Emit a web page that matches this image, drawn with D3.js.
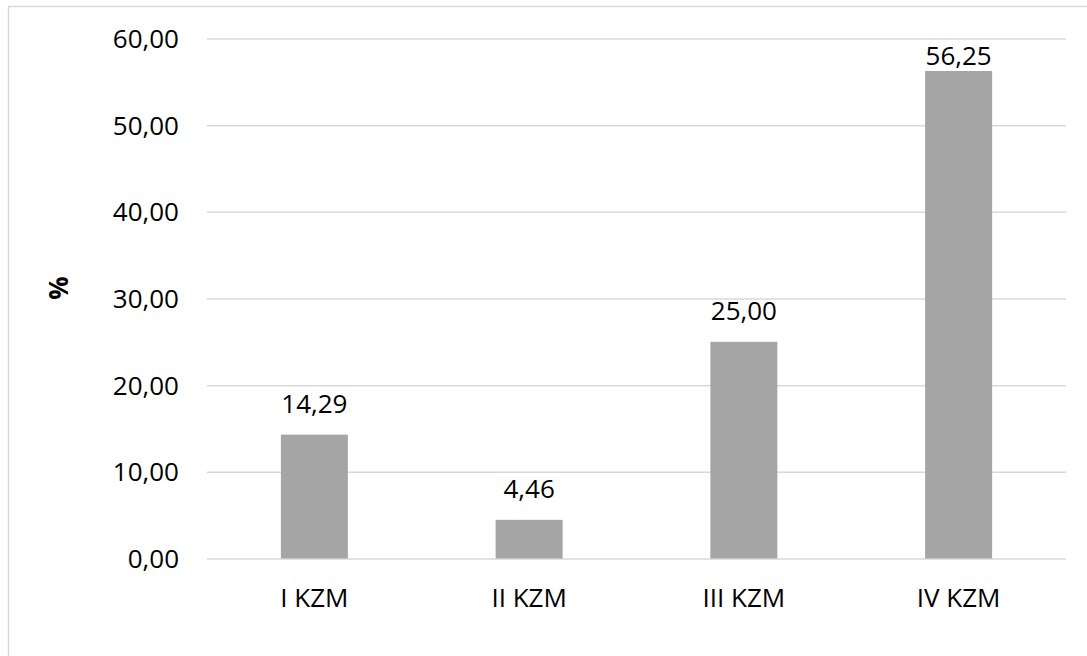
<!DOCTYPE html>
<html>
<head>
<meta charset="utf-8">
<script src="https://cdn.jsdelivr.net/npm/d3@7/dist/d3.min.js"></script>
<style>
  html, body { margin: 0; padding: 0; background: #ffffff; }
  svg { display: block; }
  text { font-family: "Open Sans", "Noto Sans", sans-serif; fill: #000000; }
</style>
</head>
<body>
<svg id="chart" width="1087" height="656"></svg>
<script>
// Share of each KZM group, in percent
const categories = ["I KZM", "II KZM", "III KZM", "IV KZM"];
const values = [14.29, 4.46, 25.00, 56.25];
const yTicks = [0, 10, 20, 30, 40, 50, 60];
const yAxisTitle = "%";

const width = 1087, height = 656;
const margin = { top: 38.5, right: 21, bottom: 97.5, left: 207 };
const innerW = width - margin.left - margin.right;
const innerH = height - margin.top - margin.bottom;
const fontSize = 26;

const fmt = v => v.toFixed(2).replace(".", ",");

const svg = d3.select("#chart");

// Outer chart frame
svg.append("rect")
  .attr("x", 8.5).attr("y", 6.5)
  .attr("width", width + 10).attr("height", height + 10)
  .attr("fill", "#ffffff")
  .attr("stroke", "#d9d9d9").attr("stroke-width", 1.5);

const g = svg.append("g").attr("transform", `translate(${margin.left},${margin.top})`);

const x = d3.scaleBand().domain(categories).range([0, innerW]).paddingInner(0.688).paddingOuter(0.344);
const y = d3.scaleLinear().domain([0, 60]).range([innerH, 0]);

// Horizontal gridlines with tick labels
const yAxis = d3.axisLeft(y).tickValues(yTicks).tickSize(-innerW).tickPadding(28).tickFormat(fmt);
const ya = g.append("g").call(yAxis);
ya.select(".domain").remove();
ya.selectAll(".tick line").attr("stroke", "#d9d9d9").attr("stroke-width", 1.5);
ya.selectAll(".tick text").attr("font-size", fontSize).attr("fill", "#000").attr("dy", "0.34em");

// Bars
g.selectAll("rect.bar")
  .data(values)
  .join("rect")
  .attr("class", "bar")
  .attr("x", (d, i) => x(categories[i]))
  .attr("y", d => y(d))
  .attr("width", x.bandwidth())
  .attr("height", d => innerH - y(d))
  .attr("fill", "#a5a5a5");

// Category labels
const xa = g.append("g").attr("transform", `translate(0,${innerH})`)
  .call(d3.axisBottom(x).tickSize(0).tickPadding(0));
xa.select(".domain").remove();
xa.selectAll(".tick text")
  .attr("font-size", fontSize)
  .attr("fill", "#000")
  .attr("y", 48.5)
  .attr("dy", 0);

// Data labels above bars, kept inside the plot area
g.selectAll("text.val")
  .data(values)
  .join("text")
  .attr("class", "val")
  .attr("x", (d, i) => x(categories[i]) + x.bandwidth() / 2)
  .attr("y", d => Math.max(y(d) - 21.5, 26.5))
  .attr("text-anchor", "middle")
  .attr("font-size", fontSize)
  .text(fmt);

// Axis title
svg.append("text")
  .attr("transform", `translate(68,288) rotate(-90)`)
  .attr("text-anchor", "middle")
  .attr("font-size", fontSize)
  .attr("font-weight", "bold")
  .text(yAxisTitle);
</script>
</body>
</html>
